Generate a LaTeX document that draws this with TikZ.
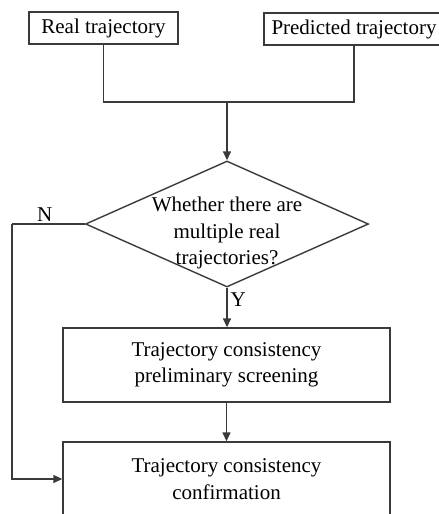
\documentclass[tikz,border=0pt]{standalone}
\usepackage{fontspec}
\setmainfont{Liberation Serif}
\usetikzlibrary{shapes.geometric,arrows.meta}
\definecolor{linegray}{HTML}{3A3A3A}
\tikzset{
  box/.style={draw=linegray, line width=1.4pt, inner sep=0pt, align=center,
    font=\fontsize{21}{26.5}\selectfont},
  decision/.style={draw=linegray, line width=1.4pt, diamond, inner sep=0pt,
    minimum width=283pt, minimum height=126pt},
  flow/.style={draw=linegray, line width=1.4pt},
  arr/.style={flow, -{Triangle[length=9pt,width=8pt]}},
  lbl/.style={font=\fontsize{21}{26.5}\selectfont, inner sep=2pt}
}
\begin{document}
\begin{tikzpicture}[x=1pt, y=-1pt]
\useasboundingbox (0,0) rectangle (439,514);
\node[box, minimum width=149pt, minimum height=32pt] (real) at (103.5,28) {Real trajectory};
\node[box, minimum width=180pt, minimum height=32pt] (pred) at (354,29) {Predicted trajectory};
\coordinate (join) at (227,102);
\node[decision] (dec) at (227,224) {};
\node[box, draw=none] (dectext) at (227,233) {Whether there are\\multiple real\\trajectories?};
\node[box, minimum width=327pt, minimum height=74pt] (screen) at (226.5,365) {Trajectory consistency\\preliminary screening};
\node[box, minimum width=327pt, minimum height=74pt] (confirm) at (226.5,479) {Trajectory consistency\\confirmation};
\coordinate (nturn) at (12,224);
\draw[flow] (real.south) |- (join) -| (pred.south);
\draw[arr] (join) -- (dec.north);
\draw[arr] (dec.south) -- node[lbl, right, pos=0.3, xshift=1pt] {Y} (dec.south |- screen.north);
\draw[arr] (screen.south) -- (confirm.north);
\draw[flow] (dec.west) -- node[lbl, above, pos=0.55] {N} (nturn);
\draw[arr] (nturn) |- (confirm.west);
\end{tikzpicture}
\end{document}
